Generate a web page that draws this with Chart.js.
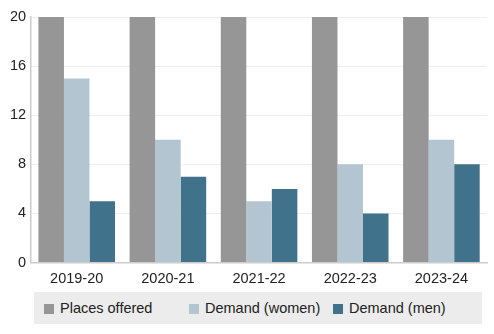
<!DOCTYPE html>
<html>
<head>
<meta charset="utf-8">
<script src="https://cdn.jsdelivr.net/npm/chart.js@4"></script>
<style>
  body { margin: 0; background: #fff; font-family: "Liberation Sans", Arial, sans-serif; }
  #wrap { position: relative; width: 494px; height: 334px; }
  #box { position: absolute; left: 0; top: 0; width: 494px; height: 296px; }
  #legend { position: absolute; left: 34px; top: 292px; width: 448px; height: 32px; background: #ececec; font-size: 14.5px; color: #222; }
  #legend .item { position: absolute; top: 0; height: 32px; line-height: 32px; white-space: nowrap; }
  #legend .sw { display: inline-block; width: 10px; height: 10px; vertical-align: -1px; margin-right: 6px; }
</style>
</head>
<body>
<div id="wrap">
  <div id="box"><canvas id="myChart"></canvas></div>
  <div id="legend"></div>
</div>
<script>
const years = ["2019-20", "2020-21", "2021-22", "2022-23", "2023-24"];
const placesOffered = [20, 20, 20, 20, 20];
const demandWomen = [15, 10, 5, 8, 10];
const demandMen = [5, 7, 6, 4, 8];
const yTicks = [0, 4, 8, 12, 16, 20];

const seriesNames = ["Places offered", "Demand (women)", "Demand (men)"];
const seriesColors = ["#969696", "#b3c5d0", "#41728c"];
const legendX = [10, 155, 299];

const ctx = document.getElementById("myChart");

const chart = new Chart(ctx, {
  type: "bar",
  data: {
    labels: years,
    datasets: [
      { label: seriesNames[0], data: placesOffered, backgroundColor: seriesColors[0] },
      { label: seriesNames[1], data: demandWomen, backgroundColor: seriesColors[1] },
      { label: seriesNames[2], data: demandMen, backgroundColor: seriesColors[2] },
    ],
  },
  options: {
    responsive: true,
    maintainAspectRatio: false,
    animation: false,
    categoryPercentage: 0.84,
    barPercentage: 1,
    layout: { padding: { top: 17, right: 7, bottom: 0, left: 5 } },
    scales: {
      x: {
        grid: { display: false, drawTicks: false },
        border: { color: "#cccccc", width: 1.5 },
        ticks: { color: "#222", font: { family: "Liberation Sans", size: 14.5 }, padding: 8, maxRotation: 0 },
      },
      y: {
        min: 0,
        max: 20,
        afterBuildTicks: (axis) => { axis.ticks = yTicks.map((v) => ({ value: v })); },
        grid: { color: "#eeeeee", drawTicks: false },
        border: { color: "#cccccc", width: 1.5 },
        ticks: { color: "#222", font: { family: "Liberation Sans", size: 14.5 }, padding: 5 },
      },
    },
    plugins: {
      legend: { display: false },
      tooltip: { enabled: false },
    },
  },
});

// html legend
const legend = document.getElementById("legend");
seriesNames.forEach((name, i) => {
  const item = document.createElement("div");
  item.className = "item";
  item.style.left = legendX[i] + "px";
  item.innerHTML = '<span class="sw" style="background:' + seriesColors[i] + '"></span>' + name;
  legend.appendChild(item);
});
</script>
</body>
</html>
